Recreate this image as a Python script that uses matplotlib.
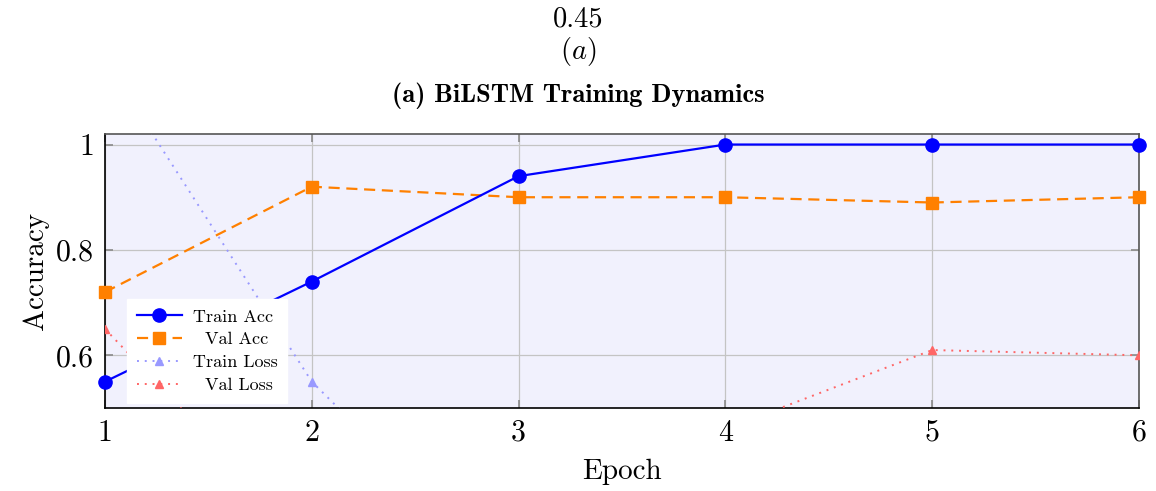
import matplotlib
matplotlib.use("Agg")
import matplotlib.pyplot as plt
from matplotlib.ticker import FixedLocator, FixedFormatter

epochs = [1, 2, 3, 4, 5, 6]
train_acc = [0.55, 0.74, 0.94, 1.00, 1.00, 1.00]
val_acc = [0.72, 0.92, 0.90, 0.90, 0.89, 0.90]
train_loss = [1.16, 0.55, 0.16, 0.08, 0.05, 0.03]
val_loss = [0.65, 0.24, 0.32, 0.46, 0.61, 0.60]

y_ticks = [0.6, 0.8, 1.0]
y_tick_labels = ["0.6", "0.8", "1"]
x_tick_labels = ["1", "2", "3", "4", "5", "6"]

plt.rcParams['font.family'] = ['cmr10', 'DejaVu Sans']
plt.rcParams['mathtext.fontset'] = 'cm'
plt.rcParams['axes.unicode_minus'] = False

fig = plt.figure(figsize=(11.56, 4.91), dpi=100)
ax = fig.add_axes([105/1156, 1-408/491, (1139-105)/1156, (408-134)/491])
ax.set_facecolor('#F1F1FD')

ax.plot(epochs, train_acc, color='#0000FF', lw=1.6, marker='o', ms=9.5,
        label='Train Acc', zorder=5, clip_on=False)
ax.plot(epochs, val_acc, color='#FF8000', lw=1.6, ls=(0, (5, 3)), marker='s', ms=9,
        label='  Val Acc', zorder=4, clip_on=False)
ax.plot(epochs, train_loss, color='#9999FF', lw=1.4, ls=(0, (1, 3)), marker='^', ms=6,
        label='Train Loss', zorder=3)
ax.plot(epochs, val_loss, color='#FF6666', lw=1.4, ls=(0, (1, 3)), marker='^', ms=6,
        label='  Val Loss', zorder=3)

ax.set_xlim(1, 6)
ax.set_ylim(0.5, 1.02)
ax.xaxis.set_major_locator(FixedLocator(epochs))
ax.xaxis.set_major_formatter(FixedFormatter(x_tick_labels))
ax.yaxis.set_major_locator(FixedLocator(y_ticks))
ax.yaxis.set_major_formatter(FixedFormatter(y_tick_labels))

ax.grid(True, color='#C4C4C4', lw=0.9)
ax.set_axisbelow(True)
ax.tick_params(direction='in', length=6, width=1.2, color='#8A8A8A',
               labelsize=21.5, top=True, right=True, pad=8)

for s in ['left', 'bottom']:
    ax.spines[s].set_color('black')
    ax.spines[s].set_linewidth(1.2)
for s in ['top', 'right']:
    ax.spines[s].set_color('#555555')
    ax.spines[s].set_linewidth(1.2)

ax.set_xlabel('Epoch', fontsize=21, labelpad=9)
ax.set_ylabel('Accuracy', fontsize=21, labelpad=5)

leg = ax.legend(loc='lower left', bbox_to_anchor=(0.021, 0.018), borderaxespad=0,
                fontsize=13, frameon=True, fancybox=False, framealpha=1,
                edgecolor='white', facecolor='white', numpoints=1,
                handlelength=2.5, labelspacing=0.4, borderpad=0.55, handletextpad=0.6)
leg.set_zorder(10)

fig.text(0.5, 1-19/491, '0.45', ha='center', va='center', fontsize=20.5)
fig.text(0.5, 1-51/491, r'$(a)$', ha='center', va='center', fontsize=20.5)
fig.text(0.5, 1-96/491, '(a) BiLSTM Training Dynamics', ha='center', va='center',
         fontsize=19, family='cmb10')

fig.savefig('out.png', dpi=100)
